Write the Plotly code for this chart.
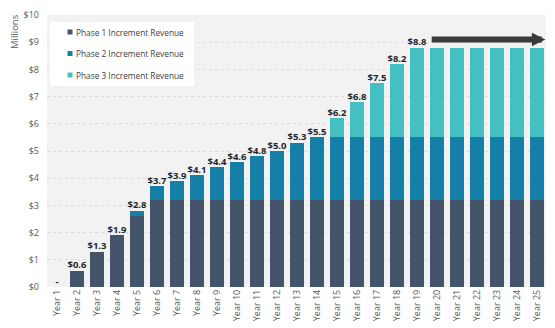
import plotly.graph_objects as go

years = [f"Year {i}" for i in range(1, 26)]
phase1 = [0, 0.6, 1.3, 1.9, 2.6] + [3.2] * 20
phase2 = [0, 0, 0, 0, 0.2, 0.5, 0.7, 0.9, 1.2, 1.4, 1.6, 1.8, 2.1, 2.3] + [2.3] * 11
phase3 = [0] * 14 + [0.7, 1.3, 2.0, 2.7] + [3.3] * 7
labels = ["-", "$0.6", "$1.3", "$1.9", "$2.8", "$3.7", "$3.9", "$4.1", "$4.4", "$4.6",
          "$4.8", "$5.0", "$5.3", "$5.5", "$6.2", "$6.8", "$7.5", "$8.2", "$8.8"] + [""] * 6
y_ticks = list(range(0, 11))
y_tick_labels = [f"${v}" for v in y_ticks]
series_names = ["Phase 1 Increment Revenue", "Phase 2 Increment Revenue", "Phase 3 Increment Revenue"]

totals = [a + b + c for a, b, c in zip(phase1, phase2, phase3)]
xi = list(range(len(years)))

W, H = 555, 328
ML, MR, MT, MB = 47, 9, 15, 41
PW, PH = W - ML - MR, H - MT - MB

def px_x(p):
    return (p - ML) / PW

def px_y(p):
    return (H - MB - p) / PH

fig = go.Figure()
colors = ["#44546A", "#157FA8", "#45C0C2"]
for vals, c, n in zip([phase1, phase2, phase3], colors, series_names):
    fig.add_trace(go.Bar(x=xi, y=vals, name=n, marker_color=c, marker_line_width=0,
                         width=0.68, showlegend=False))

fig.add_trace(go.Scatter(x=xi, y=totals, mode="text", text=labels, textposition="top center",
                         textfont=dict(family="Open Sans", size=9.5, color="#262626", weight="bold"),
                         showlegend=False, cliponaxis=False))

# continuation arrow
arrow_y = 9.1
fig.add_annotation(x=24.42, y=arrow_y, ax=18.66, ay=arrow_y, xref="x", yref="y", axref="x", ayref="y",
                   text="", showarrow=True, arrowhead=2, arrowsize=0.45, arrowwidth=6, arrowcolor="#3a3a3a")
fig.add_shape(type="line", x0=18.75, x1=24.0, y0=arrow_y, y1=arrow_y, xref="x", yref="y",
              line=dict(color="#9a9a9a", width=1.2, dash="dot"))

# legend box (drawn)
fig.add_shape(type="rect", xref="paper", yref="paper",
              x0=px_x(50), x1=px_x(194), y0=px_y(86), y1=px_y(22),
              fillcolor="white", line_width=0, layer="above")
for i, (n, c) in enumerate(zip(series_names, colors)):
    cy = 32 + i * 21.5
    fig.add_shape(type="rect", xref="paper", yref="paper",
                  x0=px_x(67.5), x1=px_x(72.5), y0=px_y(cy + 2.5), y1=px_y(cy - 2.5),
                  fillcolor=c, line_width=0, layer="above")
    fig.add_annotation(x=px_x(74), y=px_y(cy), xref="paper", yref="paper", text=n,
                       showarrow=False, xanchor="left", yanchor="middle",
                       font=dict(family="Open Sans", size=8.3, color="#404040"))

fig.add_annotation(x=px_x(14), y=px_y(32), xref="paper", yref="paper", text="Millions",
                   showarrow=False, textangle=-90, xanchor="center", yanchor="middle",
                   font=dict(family="Open Sans", size=9.5, color="#595959"))

fig.update_layout(
    width=W, height=H,
    margin=dict(l=ML, r=MR, t=MT, b=MB),
    barmode="stack",
    paper_bgcolor="white",
    plot_bgcolor="#F2F2F2",
    font=dict(family="Open Sans", size=9, color="#595959"),
    showlegend=False,
    bargap=0.3,
)
fig.update_xaxes(tickmode="array", tickvals=xi, ticktext=years, tickangle=-90,
                 range=[-0.5, 24.45], showgrid=False, zeroline=False, automargin=False,
                 tickfont=dict(size=9, color="#595959"), ticks="")
fig.update_yaxes(range=[0, 10], tickvals=y_ticks, ticktext=y_tick_labels,
                 showgrid=True, gridcolor="#DCDCDC", griddash="dot", gridwidth=1,
                 zeroline=False, automargin=False, ticks="", ticklabelstandoff=7,
                 tickfont=dict(size=9, color="#595959"))

fig.write_html("out.html")
